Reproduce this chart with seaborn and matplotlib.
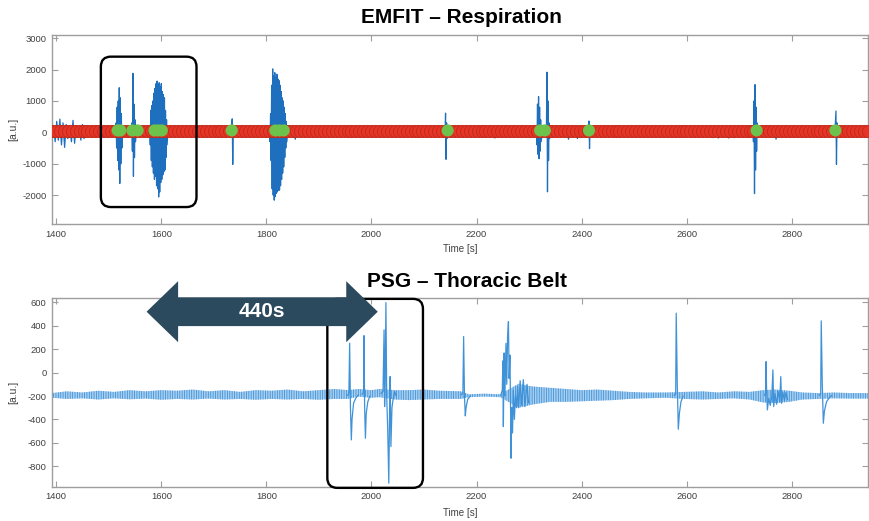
import numpy as np
import pandas as pd
import matplotlib
matplotlib.use("Agg")
import matplotlib.pyplot as plt
import matplotlib.transforms as mtransforms
from matplotlib.patches import FancyBboxPatch, Polygon
import seaborn as sns

# ---------------- EMFIT respiration (time in s, amplitude in a.u.) ----------------
emfit_t = [1392, 1395, 1398, 1401, 1404, 1407, 1410, 1413, 1416, 1419, 1422, 1426, 1429, 1432,
           1435, 1438, 1441, 1444, 1447, 1450, 1453, 1456, 1460, 1465, 1470, 1480,
           1513, 1514, 1515, 1516, 1517, 1518, 1519, 1520, 1521, 1522, 1523, 1524, 1525, 1526, 1528, 1530,
           1543, 1544, 1545, 1546, 1547, 1548, 1549, 1550, 1551, 1553, 1556,
           1577, 1578, 1579, 1580, 1581, 1582, 1583, 1584, 1585, 1586, 1587, 1588, 1589, 1590, 1591,
           1592, 1593, 1594, 1595, 1596, 1597, 1598, 1599, 1600, 1601, 1602, 1603, 1604, 1605, 1606,
           1607, 1608, 1609, 1610, 1611, 1613, 1616,
           1733, 1735, 1736, 1737, 1739,
           1805, 1806, 1807, 1808, 1809, 1810, 1811, 1812, 1813, 1814, 1815, 1816, 1817, 1818, 1819,
           1820, 1821, 1822, 1823, 1824, 1825, 1826, 1827, 1828, 1829, 1830, 1831, 1832, 1833, 1834,
           1835, 1836, 1837, 1838, 1839, 1841, 1843,
           1853, 1855, 1857, 1894, 1896, 1897, 1899,
           2140, 2141, 2142, 2143, 2144, 2146, 2233, 2235, 2238,
           2313, 2314, 2315, 2316, 2317, 2318, 2319, 2320, 2321, 2322, 2323, 2325,
           2332, 2333, 2334, 2335, 2336, 2337, 2338, 2339, 2341,
           2373, 2375, 2377, 2390, 2392, 2394,
           2413, 2414, 2415, 2416, 2418,
           2450, 2451, 2452, 2470, 2471, 2472, 2494, 2495, 2496,
           2645, 2650, 2655, 2660, 2665, 2670, 2675, 2680, 2685, 2690, 2695, 2700, 2705,
           2725, 2726, 2727, 2728, 2729, 2730, 2731, 2732, 2733, 2734, 2736,
           2768, 2770, 2772,
           2882, 2884, 2885, 2886, 2888, 2945]
emfit_v = [0, 200, -300, 350, -250, 420, -400, 300, -480, 250, -200, 150, -300, 380,
           -350, 200, -150, 120, -250, 250, -200, 150, -100, 60, -60, 0,
           0, 300, -500, 800, -900, 1000, -1200, 1420, -1630, 1100, -1000, 600, -500, 200, -100, 0,
           0, 300, -600, 1880, -1400, 900, -800, 400, -300, 100, 0,
           0, 200, -400, 700, -900, 850, -1100, 1000, -1300, 1250, -1500, 1400, -1400, 1550, -1700,
           1630, -1800, 1500, -2060, 1580, -1900, 1450, -1600, 1550, -1500, 1300, -1350, 1200, -1250, 1100,
           -1200, 700, -800, 400, -400, 100, 0,
           0, 430, -1020, 200, 0,
           0, 100, -300, 600, -900, 1500, -1800, 2020, -2000, 1800, -2160, 1900, -2050, 1750, -1950,
           1850, -1900, 1700, -1850, 1650, -1840, 1500, -1700, 1300, -1500, 1100, -1300, 1000, -1100, 800,
           -800, 600, -500, 350, -300, 100, 0,
           0, -220, 0, 0, 150, -150, 0,
           0, 610, -860, 300, -200, 0, 0, -180, 0,
           0, 200, -400, 900, -700, 1140, -840, 800, -600, 400, -300, 0,
           0, 200, 1915, -1895, 1000, -900, 300, -200, 0,
           0, -220, 0, 0, -200, 0,
           0, 360, -520, 150, 0,
           0, -150, 0, 0, -150, 0, 0, -150, 0,
           0, -170, 40, -180, 30, -160, 40, -180, 20, -170, 30, -150, 0,
           0, 100, -300, 1000, -1950, 1520, -1200, 800, -600, 300, 0,
           0, -220, 0,
           0, 680, -1020, 300, 0, 0]

# breath-by-breath detections (red) and flagged events (green)
detect_span = (1392, 2946)
detect_step = 7.5
detect_level = 50
event_t = [1517, 1522, 1545, 1555, 1587, 1594, 1601, 1734, 1817, 1825, 1833,
           2145, 2321, 2330, 2414, 2733, 2883]
event_level = 60

# ---------------- PSG thoracic belt ----------------
# envelope of the regular breathing band
psg_band_t = [1392, 1420, 1450, 1480, 1510, 1540, 1570, 1600, 1630, 1660, 1690, 1720, 1750, 1780,
              1810, 1840, 1870, 1900, 1930, 1955, 1975, 2000, 2015, 2045, 2070, 2100, 2130, 2170,
              2185, 2215, 2245, 2280, 2295, 2310, 2325, 2340, 2370, 2400, 2430, 2460, 2490, 2520,
              2560, 2595, 2630, 2660, 2690, 2720, 2745, 2770, 2795, 2820, 2850, 2880, 2910, 2945]
psg_band_hi = [-175, -160, -170, -155, -165, -150, -160, -150, -155, -145, -160, -150, -165, -150,
               -155, -145, -160, -150, -140, -150, -140, -150, -140, -150, -150, -145, -155, -160,
               -185, -180, -185, -95, -110, -120, -125, -130, -140, -150, -145, -155, -165, -170,
               -170, -165, -160, -170, -160, -165, -150, -145, -155, -170, -175, -170, -175, -175]
psg_band_lo = [-215, -225, -220, -230, -220, -228, -222, -232, -225, -230, -222, -230, -225, -232,
               -225, -230, -225, -232, -225, -225, -205, -215, -210, -230, -235, -230, -225, -225,
               -210, -205, -210, -300, -285, -270, -260, -250, -250, -245, -240, -235, -225, -220,
               -215, -225, -230, -225, -220, -230, -255, -260, -250, -230, -225, -220, -222, -222]

# transient deflections on top of the breathing band
psg_event_t = [
    [1954, 1957, 1958.5, 1960, 1961.7, 1963, 1966, 1970, 1975],
    [1982, 1985, 1985.8, 1987, 1988.5, 1990, 1993, 1997],
    [2018, 2022, 2024, 2025, 2026, 2027.5, 2029, 2031, 2033, 2034.5, 2035.5, 2037, 2039, 2041, 2044, 2047],
    [2171, 2174, 2175.4, 2177, 2178.6, 2180, 2183, 2188],
    [2246, 2249, 2250, 2251, 2252.5, 2254, 2256, 2257.5, 2259, 2260.7, 2262, 2263.5, 2265, 2265.7,
     2267, 2268.5, 2270, 2272, 2274, 2276, 2278, 2280, 2283, 2286, 2289, 2292, 2296, 2299],
    [2576, 2579, 2580, 2582, 2584, 2586, 2589, 2593],
    [2748, 2750, 2751, 2752, 2753.5, 2756, 2759, 2762, 2764, 2765.5, 2768, 2771, 2774, 2777, 2779,
     2780.5, 2783, 2786, 2789, 2792],
    [2852, 2855, 2856, 2858, 2860, 2862, 2866, 2872, 2876],
]
psg_event_v = [
    [-195, -180, 251, -300, -575, -400, -260, -220, -190],
    [-185, -170, 316, -300, -561, -350, -250, -200],
    [-180, -160, 365, -290, -100, 598, -200, -500, -945, -300, -34, -632, -300, -233, -160, -200],
    [-190, -170, 308, -200, -370, -300, -230, -200],
    [-195, -150, 100, -461, 168, -200, 250, -100, 300, 436, -50, 150, -400, -732,
     -300, -516, -150, -400, -200, -300, -120, -300, -70, -280, -60, -290, -100, -260],
    [-195, -180, 508, -100, -484, -350, -250, -200],
    [-195, -170, 94, -150, -319, -220, -280, -200, 23, -290, -180, -270, -160, -250, -34,
     -262, -170, -240, -170, -230],
    [-195, -180, 442, -100, -433, -330, -250, -210, -195],
]

# highlighted windows and the lag between them
emfit_window = (1485, 1667, -2380, 2410)
psg_window = (1916, 2098, -985, 630)
lag_start = 1572
lag_s = 440

# ---------------- styling ----------------
sns.set_theme(style="white")
plt.rcParams["font.family"] = ["Liberation Sans", "DejaVu Sans"]
plt.rcParams["hatch.linewidth"] = 0.6
plt.rcParams["axes.unicode_minus"] = False

W, H, DPI = 869, 521, 100
fig = plt.figure(figsize=(W / DPI, H / DPI), dpi=DPI)
fig.patch.set_facecolor("white")

ax1 = fig.add_axes([52 / W, 1 - 224 / H, 816 / W, 189 / H])
ax2 = fig.add_axes([52 / W, 1 - 486.7 / H, 816 / W, 189 / H])

EMFIT_BLUE = "#1f6fbf"
PSG_BLUE = "#3f92d8"
TICK_GREY = "#404040"
SPINE_GREY = "#9e9e9e"

# --- EMFIT panel ---
emfit_df = pd.DataFrame({"t": emfit_t, "v": emfit_v})
sns.lineplot(data=emfit_df, x="t", y="v", sort=False, estimator=None,
             color=EMFIT_BLUE, lw=0.9, ax=ax1, zorder=2)

det_t = np.arange(detect_span[0], detect_span[1], detect_step)
det_df = pd.DataFrame({"t": det_t, "v": np.full(len(det_t), detect_level)})
sns.scatterplot(data=det_df, x="t", y="v", s=78, color="#e53527", edgecolor="#c0281b",
                linewidth=0.6, ax=ax1, zorder=3, legend=False)

ev_df = pd.DataFrame({"t": event_t, "v": np.full(len(event_t), event_level)})
sns.scatterplot(data=ev_df, x="t", y="v", s=76, color="#6cc24a", edgecolor="none",
                ax=ax1, zorder=4, legend=False)

ax1.set_xlim(1392, 2945)
ax1.set_ylim(-2920, 3100)
ax1.set_yticks([-2000, -1000, 0, 1000, 2000, 3000])

# --- PSG panel ---
ax2.fill_between(psg_band_t, psg_band_lo, psg_band_hi, facecolor="#a9cff0",
                 edgecolor=PSG_BLUE, hatch="|" * 7, linewidth=0, zorder=2)
rows = []
for k, (ts, vs) in enumerate(zip(psg_event_t, psg_event_v)):
    for t, v in zip(ts, vs):
        rows.append((k, t, v))
psg_df = pd.DataFrame(rows, columns=["event", "t", "v"])
sns.lineplot(data=psg_df, x="t", y="v", units="event", estimator=None, sort=False,
             color=PSG_BLUE, lw=0.9, ax=ax2, zorder=3)

ax2.set_xlim(1392, 2945)
ax2.set_ylim(-975, 640)
ax2.set_yticks([-800, -600, -400, -200, 0, 200, 400, 600])

for ax in (ax1, ax2):
    ax.set_xticks([1400, 1600, 1800, 2000, 2200, 2400, 2600, 2800])
    ax.tick_params(direction="in", length=4, width=0.8, color=SPINE_GREY,
                   labelsize=6.8, labelcolor=TICK_GREY, top=True, right=True,
                   bottom=True, left=True, pad=4)
    for sp in ax.spines.values():
        sp.set_visible(True)
        sp.set_color(SPINE_GREY)
        sp.set_linewidth(1.0)
    ax.set_facecolor("white")
    ax.grid(False)
    ax.set_xlabel("Time [s]", fontsize=7, color=TICK_GREY, va="center")
    ax.set_ylabel("[a.u.]", fontsize=7.5, color=TICK_GREY, va="center")
    ax.yaxis.set_label_coords(-0.047, 0.5)

ax1.xaxis.set_label_coords(0.5, -0.132)
ax2.xaxis.set_label_coords(0.5, -0.139)

# panel titles
fig.text(461 / W, 1 - 17.5 / H, "EMFIT \u2013 Respiration", ha="center", va="center",
         fontsize=15, fontweight="bold", color="black")
fig.text(467 / W, 1 - 281.5 / H, "PSG \u2013 Thoracic Belt", ha="center", va="center",
         fontsize=15, fontweight="bold", color="black")

# rounded boxes around the matching episodes
fig.canvas.draw()
for ax, (t0, t1, v0, v1) in ((ax1, emfit_window), (ax2, psg_window)):
    (x0, y0), (x1, y1) = ax.transData.transform([(t0, v0), (t1, v1)])
    box = FancyBboxPatch((x0 / DPI, y0 / DPI), (x1 - x0) / DPI, (y1 - y0) / DPI,
                         boxstyle="round,pad=0,rounding_size=0.1",
                         transform=fig.dpi_scale_trans, fill=False,
                         edgecolor="black", linewidth=1.7, zorder=6, clip_on=False)
    fig.add_artist(box)

# double-headed arrow spanning the lag between both windows
trans = mtransforms.blended_transform_factory(ax2.transData, fig.dpi_scale_trans)
yc = (H - 311.7) / DPI
head_len = 60
body_h, head_h = 0.144, 0.305
a0, a1 = lag_start, lag_start + lag_s
verts = [(a0, yc), (a0 + head_len, yc + head_h), (a0 + head_len, yc + body_h),
         (a1 - head_len, yc + body_h), (a1 - head_len, yc + head_h), (a1, yc),
         (a1 - head_len, yc - head_h), (a1 - head_len, yc - body_h),
         (a0 + head_len, yc - body_h), (a0 + head_len, yc - head_h)]
arrow = Polygon(verts, closed=True, transform=trans, facecolor="#2c4a5e",
                edgecolor="none", zorder=7, clip_on=False)
fig.add_artist(arrow)
label = fig.text((a0 + a1) / 2, yc, f"{lag_s}s", transform=trans,
                 ha="center", va="center", fontsize=15, fontweight="bold",
                 color="white", zorder=8)

fig.savefig("out.png", dpi=DPI, facecolor="white")
